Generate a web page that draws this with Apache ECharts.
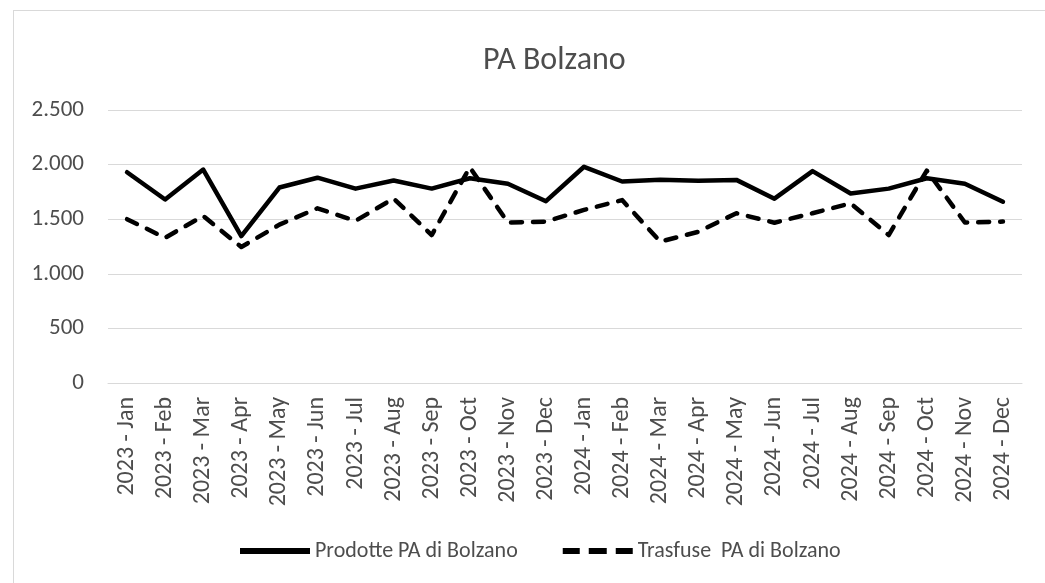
<!DOCTYPE html>
<html>
<head>
<meta charset="utf-8">
<script src="https://cdn.jsdelivr.net/npm/echarts@6/dist/echarts.min.js"></script>
<style>
  html, body { margin: 0; padding: 0; background: #fff; }
  #frame { position: absolute; left: 13px; top: 10px; width: 1100px; height: 700px; border: 1px solid #d9d9d9; box-sizing: border-box; }
  #main { position: absolute; left: 0; top: 0; width: 1045px; height: 583px; }
</style>
</head>
<body>
<div id="frame"></div>
<div id="main"></div>
<script>
// mesi
var categories = [
    '2023 - Jan', '2023 - Feb', '2023 - Mar', '2023 - Apr', '2023 - May', '2023 - Jun',
    '2023 - Jul', '2023 - Aug', '2023 - Sep', '2023 - Oct', '2023 - Nov', '2023 - Dec',
    '2024 - Jan', '2024 - Feb', '2024 - Mar', '2024 - Apr', '2024 - May', '2024 - Jun',
    '2024 - Jul', '2024 - Aug', '2024 - Sep', '2024 - Oct', '2024 - Nov', '2024 - Dec'
];

var prodotte = [
    1930, 1680, 1955, 1345, 1790, 1880, 1780, 1855, 1780, 1875, 1825, 1665,
    1980, 1845, 1862, 1852, 1860, 1688, 1940, 1735, 1780, 1875, 1825, 1660
];

var trasfuse = [
    1500, 1330, 1530, 1245, 1450, 1600, 1485, 1690, 1355, 1975, 1470, 1478,
    1585, 1675, 1295, 1385, 1555, 1468, 1555, 1645, 1355, 1945, 1470, 1478
];

var seriesNames = ['Prodotte PA di Bolzano', 'Trasfuse  PA di Bolzano'];

function fmt(v) {
    return String(v).replace(/\B(?=(\d{3})+(?!\d))/g, '.');
}

var font = 'Calibri, Carlito, "Open Sans", sans-serif';
var grey = '#4d4d4d';

var option = {
    animation: false,
    textStyle: { fontFamily: font },
    title: {
        text: 'PA Bolzano',
        left: 478,
        top: 40,
        textStyle: { fontSize: 32, fontWeight: 'normal', color: grey, fontFamily: font }
    },
    legend: {
        top: 535,
        left: 235,
        itemWidth: 70,
        itemHeight: 6,
        itemGap: 45,
        textStyle: { fontSize: 22, color: grey, fontFamily: font },
        data: [
            { name: seriesNames[0], icon: 'path://M0,0 L70,0 L70,6 L0,6 Z' },
            { name: seriesNames[1], icon: 'path://M0,0 L17,0 L17,6 L0,6 Z M26,0 L44,0 L44,6 L26,6 Z M53,0 L70,0 L70,6 L53,6 Z' }
        ]
    },
    grid: {
        left: 108,
        right: 23,
        top: 110,
        bottom: 200
    },
    xAxis: {
        type: 'category',
        boundaryGap: true,
        data: categories,
        axisLine: { lineStyle: { color: '#d9d9d9', width: 1 } },
        axisTick: { show: false },
        axisLabel: {
            interval: 0,
            rotate: 90,
            margin: 14,
            fontSize: 24,
            color: grey,
            fontFamily: font
        }
    },
    yAxis: {
        type: 'value',
        min: 0,
        max: 2500,
        interval: 500,
        axisLine: { show: false },
        axisTick: { show: false },
        splitLine: { lineStyle: { color: '#d9d9d9', width: 1 } },
        axisLabel: {
            margin: 24,
            fontSize: 23,
            color: grey,
            fontFamily: font,
            formatter: fmt
        }
    },
    series: [
        {
            name: seriesNames[0],
            type: 'line',
            data: prodotte,
            symbol: 'none',
            lineStyle: { color: '#000', width: 4.5, cap: 'round', join: 'round' },
            itemStyle: { color: '#000' }
        },
        {
            name: seriesNames[1],
            type: 'line',
            data: trasfuse,
            symbol: 'none',
            lineStyle: { color: '#000', width: 4.5, type: [11, 11], cap: 'round', join: 'round' },
            itemStyle: { color: '#000' }
        }
    ]
};

var chart = echarts.init(document.getElementById('main'), null, { renderer: 'canvas' });
chart.setOption(option);
</script>
</body>
</html>
